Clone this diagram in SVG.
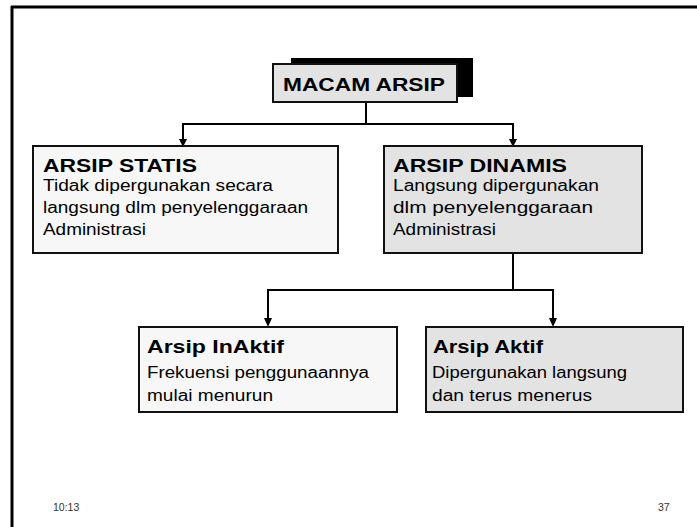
<svg xmlns="http://www.w3.org/2000/svg" width="697" height="527" viewBox="0 0 697 527">
<style>
.box{stroke:#111;stroke-width:2}
.light{fill:#f7f7f7}
.dark{fill:#e3e3e3}
.t{font-family:"Liberation Sans",Arial,sans-serif;fill:#000}
.h{font-weight:bold;font-size:19px}
.b{font-size:16px}
.f{font-family:"Liberation Sans",Arial,sans-serif;font-size:10.5px;fill:#333}
.c{fill:none;stroke:#000;stroke-width:2}
</style>
<rect width="697" height="527" fill="#fff"/>
<g id="frame">
<line x1="11" y1="7" x2="697" y2="7" stroke="#000" stroke-width="3"/>
<line x1="12" y1="6" x2="12" y2="527" stroke="#000" stroke-width="3"/>
</g>
<g id="connectors">
<path class="c" d="M366,102 V124 M183,124 H513"/>
<path class="c" d="M183,123 V140"/>
<path d="M179,139 L187,139 L183,147 Z"/>
<path class="c" d="M513,123 V140"/>
<path d="M509,139 L517,139 L513,147 Z"/>
<path class="c" d="M513,253 V290 M268,290 H553"/>
<path class="c" d="M268,289 V319"/>
<path d="M264,318 L272,318 L268,327 Z"/>
<path class="c" d="M553,289 V319"/>
<path d="M549,318 L557,318 L553,327 Z"/>
</g>
<g id="macam">
<rect x="291" y="58" width="182" height="39" fill="#000"/>
<rect class="box dark" x="273" y="64" width="184" height="38"/>
<text class="t h" x="283" y="91" font-size="19" textLength="162" lengthAdjust="spacingAndGlyphs">MACAM ARSIP</text>
</g>
<g id="statis">
<rect class="box light" x="33" y="146" width="305" height="107"/>
<text class="t h" x="43" y="172" textLength="154" lengthAdjust="spacingAndGlyphs">ARSIP STATIS</text>
<text class="t b" x="43" y="191" textLength="230" lengthAdjust="spacingAndGlyphs">Tidak dipergunakan secara</text>
<text class="t b" x="43" y="213" textLength="265" lengthAdjust="spacingAndGlyphs">langsung dlm penyelenggaraan</text>
<text class="t b" x="43" y="235" textLength="103" lengthAdjust="spacingAndGlyphs">Administrasi</text>
</g>
<g id="dinamis">
<rect class="box dark" x="384" y="146" width="258" height="107"/>
<text class="t h" x="393" y="172" textLength="174" lengthAdjust="spacingAndGlyphs">ARSIP DINAMIS</text>
<text class="t b" x="393" y="191" textLength="206" lengthAdjust="spacingAndGlyphs">Langsung dipergunakan</text>
<text class="t b" x="393" y="213" textLength="200" lengthAdjust="spacingAndGlyphs">dlm penyelenggaraan</text>
<text class="t b" x="393" y="235" textLength="103" lengthAdjust="spacingAndGlyphs">Administrasi</text>
</g>
<g id="inaktif">
<rect class="box light" x="139" y="327" width="258" height="85"/>
<text class="t h" x="147" y="353" textLength="137" lengthAdjust="spacingAndGlyphs">Arsip InAktif</text>
<text class="t b" x="147" y="378" textLength="222" lengthAdjust="spacingAndGlyphs">Frekuensi penggunaannya</text>
<text class="t b" x="147" y="401" textLength="126" lengthAdjust="spacingAndGlyphs">mulai menurun</text>
</g>
<g id="aktif">
<rect class="box dark" x="426" y="327" width="257" height="85"/>
<text class="t h" x="433" y="353" textLength="110" lengthAdjust="spacingAndGlyphs">Arsip Aktif</text>
<text class="t b" x="432" y="378" textLength="195" lengthAdjust="spacingAndGlyphs">Dipergunakan langsung</text>
<text class="t b" x="432" y="401" textLength="160" lengthAdjust="spacingAndGlyphs">dan terus menerus</text>
</g>
<g id="footer">
<text class="f" x="53" y="511">10:13</text>
<text class="f" x="658" y="511">37</text>
</g>
</svg>
